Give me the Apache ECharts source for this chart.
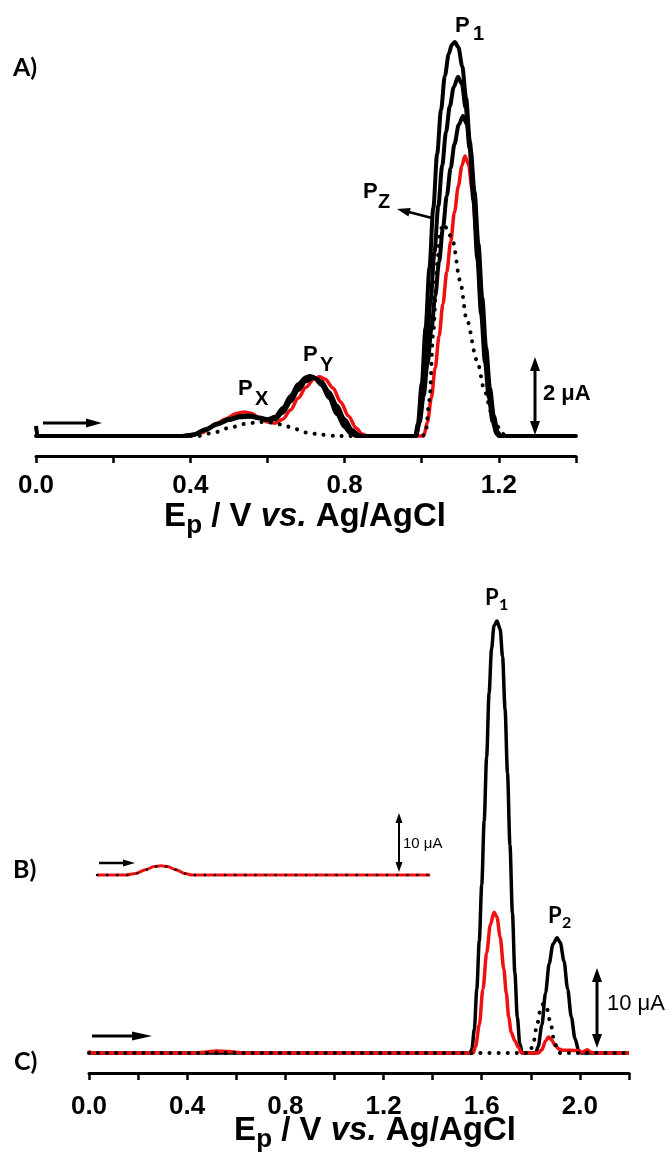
<!DOCTYPE html>
<html>
<head>
<meta charset="utf-8">
<script src="https://cdn.jsdelivr.net/npm/echarts@6/dist/echarts.min.js"></script>
<style>
  html, body { margin: 0; padding: 0; background: #fff; }
  #main { width: 672px; height: 1157px; }
</style>
</head>
<body>
<div id="main"></div>
<script>
// ---- panel A : potential (V) vs current (uA), 3 black runs, red run, dotted blank
var aBlack1 = [[0,0.25],[0.004,0],[0.38,0],[0.41,0.04],[0.44,0.17],[0.47,0.31],[0.50,0.42],[0.53,0.5],[0.555,0.51],[0.58,0.46],[0.60,0.42],[0.62,0.48],[0.64,0.7],[0.66,1.0],[0.68,1.3],[0.70,1.47],[0.71,1.5],[0.72,1.47],[0.74,1.28],[0.76,0.95],[0.78,0.55],[0.80,0.22],[0.815,0.07],[0.83,0],[0.975,0],[0.983,0],[0.99,0.3],[1.0,1.3],[1.01,2.7],[1.02,4.2],[1.03,5.7],[1.04,7.05],[1.05,8.15],[1.06,9.0],[1.07,9.55],[1.078,9.78],[1.086,9.85],[1.095,9.72],[1.105,9.25],[1.115,8.45],[1.125,7.35],[1.135,6.0],[1.145,4.55],[1.155,3.15],[1.165,1.95],[1.175,1.0],[1.185,0.38],[1.195,0.06],[1.203,0],[1.21,0],[1.4,0]];
var aBlack2 = [[0,0],[0.38,0],[0.41,0.04],[0.44,0.16],[0.47,0.3],[0.50,0.41],[0.53,0.48],[0.555,0.5],[0.58,0.45],[0.60,0.41],[0.62,0.45],[0.64,0.64],[0.66,0.93],[0.68,1.22],[0.70,1.42],[0.715,1.48],[0.73,1.42],[0.75,1.18],[0.77,0.84],[0.79,0.48],[0.81,0.18],[0.825,0.05],[0.84,0],[0.975,0],[0.985,0],[0.993,0.3],[1.003,1.1],[1.013,2.2],[1.023,3.4],[1.033,4.6],[1.043,5.75],[1.053,6.75],[1.063,7.6],[1.073,8.25],[1.083,8.72],[1.094,8.98],[1.104,8.8],[1.114,8.2],[1.124,7.2],[1.134,5.9],[1.144,4.45],[1.154,3.05],[1.164,1.85],[1.174,0.95],[1.184,0.35],[1.194,0.05],[1.2,0],[1.21,0],[1.4,0]];
var aBlack3 = [[0,0],[0.38,0],[0.41,0.03],[0.44,0.15],[0.47,0.29],[0.50,0.4],[0.53,0.47],[0.555,0.48],[0.58,0.44],[0.60,0.4],[0.62,0.42],[0.64,0.58],[0.66,0.86],[0.68,1.15],[0.70,1.37],[0.72,1.45],[0.74,1.36],[0.76,1.1],[0.78,0.76],[0.80,0.42],[0.82,0.15],[0.835,0.03],[0.85,0],[0.975,0],[0.985,0],[0.995,0.35],[1.005,1.0],[1.015,1.8],[1.025,2.65],[1.035,3.5],[1.045,4.35],[1.055,5.2],[1.065,6.0],[1.075,6.7],[1.085,7.3],[1.096,7.78],[1.107,8.0],[1.117,7.8],[1.127,7.15],[1.137,6.1],[1.147,4.8],[1.157,3.45],[1.167,2.2],[1.177,1.2],[1.187,0.5],[1.197,0.1],[1.205,0],[1.215,0],[1.4,0]];
var aRed = [[0,0.25],[0.004,0],[0.38,0],[0.40,0],[0.43,0.08],[0.46,0.25],[0.49,0.42],[0.52,0.56],[0.54,0.6],[0.56,0.56],[0.58,0.45],[0.60,0.35],[0.62,0.32],[0.64,0.42],[0.66,0.65],[0.68,0.95],[0.70,1.22],[0.72,1.42],[0.735,1.48],[0.75,1.42],[0.77,1.2],[0.79,0.85],[0.81,0.5],[0.83,0.2],[0.845,0.05],[0.86,0],[0.99,0],[1.005,0],[1.015,0.35],[1.025,0.95],[1.035,1.7],[1.045,2.5],[1.055,3.3],[1.065,4.1],[1.075,4.85],[1.085,5.6],[1.095,6.25],[1.104,6.75],[1.112,7.0],[1.121,6.8],[1.131,6.15],[1.141,5.1],[1.151,3.85],[1.161,2.6],[1.171,1.55],[1.181,0.75],[1.191,0.25],[1.2,0.04],[1.21,0],[1.4,0]];
var aDotted = [[0,0],[0.42,0],[0.46,0.08],[0.50,0.2],[0.54,0.3],[0.58,0.35],[0.61,0.34],[0.64,0.28],[0.67,0.18],[0.70,0.09],[0.74,0.03],[0.78,0],[1.0,0],[1.01,0.05],[1.02,0.9],[1.03,2.6],[1.04,4.3],[1.047,5.05],[1.055,5.3],[1.065,5.2],[1.081,4.85],[1.099,3.9],[1.117,2.9],[1.143,1.9],[1.164,1.1],[1.18,0.6],[1.195,0.25],[1.21,0.05],[1.222,0],[1.4,0]];

// ---- panel B (offset trace drawn in the lower grid) and panel C
var bRed = [[0.033,22.25],[0.15,22.25],[0.19,22.45],[0.23,22.9],[0.265,23.3],[0.293,23.4],[0.32,23.3],[0.355,22.9],[0.39,22.45],[0.42,22.25],[1.39,22.25]];
var cBlack = [[0,0],[1.54,0],[1.552,0],[1.56,0.5],[1.57,3],[1.58,8],[1.59,14],[1.60,21],[1.61,29],[1.62,37],[1.63,45],[1.64,50.5],[1.65,53.4],[1.662,54],[1.675,53],[1.685,49.5],[1.695,43],[1.705,35],[1.715,26],[1.725,17.5],[1.735,10],[1.745,4.5],[1.755,1.2],[1.765,0],[1.775,0],[1.81,0],[1.82,0],[1.83,0.8],[1.845,3.5],[1.86,7.5],[1.875,11.2],[1.89,13.6],[1.907,14.4],[1.92,13.8],[1.935,11.5],[1.95,8],[1.965,4.5],[1.98,1.8],[1.995,0.3],[2.005,0],[2.015,0],[2.2,0]];
var cRed = [[0,0.3],[0.004,0],[0.44,0],[0.47,0.1],[0.52,0.25],[0.57,0.2],[0.61,0.05],[0.63,0],[1.56,0],[1.565,0],[1.575,0.8],[1.59,3.5],[1.605,8],[1.62,12.5],[1.635,16],[1.65,17.6],[1.662,17],[1.675,14.5],[1.69,10.5],[1.70,7.5],[1.71,4.5],[1.72,2.6],[1.735,1.5],[1.75,0.7],[1.762,0],[1.83,0],[1.845,0.4],[1.86,1.5],[1.872,2.0],[1.885,1.6],[1.9,0.9],[1.915,0.5],[1.93,0.35],[1.96,0.35],[1.99,0.3],[2.01,0.1],[2.03,0.4],[2.045,0.1],[2.06,0],[2.2,0]];
var cDotted = [[0,0],[1.795,0],[1.81,1.2],[1.825,3.5],[1.84,5.5],[1.852,6.2],[1.865,5.6],[1.88,3.8],[1.895,1.6],[1.91,0.2],[1.92,0],[2.2,0]];

var FONT = '"Liberation Sans", Arial, sans-serif';
var CAL = 'Lato, "Open Sans", sans-serif';

// ---------- annotation helpers (pixels)
var ctx = document.createElement('canvas').getContext('2d');
function tw(t, f) { ctx.font = f; return ctx.measureText(t).width; }
function txt(x, y, t, f, align) {
  return { type: 'text', z: 100, x: x, y: y,
    style: { text: t, font: f, fill: '#000', align: align || 'left', verticalAlign: 'middle' } };
}
// runs of text on one line, parts = [text, font, dy]; centred on x
function runs(x, y, parts) {
  var total = 0;
  parts.forEach(function (p) { total += tw(p[0], p[1]); });
  var cx = x - total / 2, out = [];
  parts.forEach(function (p) {
    out.push(txt(cx, y + (p[2] || 0), p[0], p[1]));
    cx += tw(p[0], p[1]);
  });
  return out;
}
function head(tx, ty, ux, uy, len, wid) {
  var bx = tx - ux * len, by = ty - uy * len, px = -uy * wid / 2, py = ux * wid / 2;
  return { type: 'polygon', z: 100, shape: { points: [[tx, ty], [bx + px, by + py], [bx - px, by - py]] }, style: { fill: '#000' } };
}
function arrow(x1, y1, x2, y2, lw, len, wid) {
  var d = Math.hypot(x2 - x1, y2 - y1), ux = (x2 - x1) / d, uy = (y2 - y1) / d;
  return [{ type: 'line', z: 100, shape: { x1: x1, y1: y1, x2: x2 - ux * len * 0.7, y2: y2 - uy * len * 0.7 }, style: { stroke: '#000', lineWidth: lw } },
    head(x2, y2, ux, uy, len, wid)];
}
function scaleBar(x, y1, y2, lw, len, wid) {
  return [{ type: 'line', z: 100, shape: { x1: x, y1: y1 + len * 0.7, x2: x, y2: y2 - len * 0.7 }, style: { stroke: '#000', lineWidth: lw } },
    head(x, y1, 0, -1, len, wid), head(x, y2, 0, 1, len, wid)];
}

var B22 = 'bold 22px ' + FONT, B20 = 'bold 20px ' + FONT;
var T33 = 'bold 33px ' + FONT;
var title = [['E', T33], ['p', 'bold 26px ' + FONT, 9], [' / V ', T33], ['vs.', 'italic ' + T33], [' Ag/AgCl', T33]];
var graphics = [].concat(
  txt(13, 68, 'A)', 'bold 25px ' + CAL),
  txt(13, 870, 'B)', 'bold 25px ' + CAL),
  txt(14, 1062, 'C)', 'bold 25px ' + CAL),
  // panel A peak labels
  txt(455, 26, 'P', B22), txt(473, 34, '1', B20),
  txt(363, 192, 'P', B22), txt(378, 202, 'Z', B20),
  txt(238, 389, 'P', B22), txt(255, 399, 'X', B20),
  txt(303, 355, 'P', B22), txt(320, 365, 'Y', B20),
  // panel C peak labels
  txt(485, 598, 'P', 'bold 22px ' + CAL), txt(499, 605, '1', 'bold 16px ' + CAL),
  txt(548, 916, 'P', 'bold 22px ' + CAL), txt(562, 923, '2', 'bold 16px ' + CAL),
  // arrows and scale bars
  arrow(43, 423, 102, 423, 3, 16, 9),
  arrow(432, 218, 397, 209, 2.5, 13, 9),
  scaleBar(535, 357, 435, 3, 14, 10),
  arrow(99, 863, 135, 863, 2.5, 12, 7),
  scaleBar(399, 813, 872, 2, 10, 7),
  arrow(92, 1036, 152, 1036, 3, 20, 9),
  scaleBar(597, 968, 1048, 3, 14, 10),
  txt(543, 394, '2 μA', B22),
  txt(403, 844, '10 μA', '15px ' + FONT),
  txt(607, 1004, '10 μA', '22px ' + FONT),
  // axis titles
  runs(305, 517, title),
  runs(375, 1131, title)
);

function xAxisOf(grid, max, margin) {
  return {
    gridIndex: grid, type: 'value', min: 0, max: max, interval: 0.2,
    axisLine: { show: true, onZero: false, lineStyle: { color: '#000', width: 3 } },
    axisTick: { show: true, inside: false, length: 7, lineStyle: { color: '#000', width: 2.5 } },
    splitLine: { show: false },
    axisLabel: {
      margin: margin, color: '#000', fontFamily: FONT, fontWeight: 'bold', fontSize: 26,
      formatter: function (v) { return Math.round(v * 10) % 4 === 0 ? v.toFixed(1) : ''; }
    }
  };
}

function line(name, grid, data, color, width) {
  return { name: name, type: 'line', xAxisIndex: grid, yAxisIndex: grid, data: data,
    symbol: 'none', smooth: 0.3, smoothMonotone: 'x',
    lineStyle: { color: color, width: width } };
}
function dots(name, grid, data, width, gap) {
  return { name: name, type: 'line', xAxisIndex: grid, yAxisIndex: grid, data: data,
    symbol: 'none', smooth: 0.3, smoothMonotone: 'x', z: 5,
    lineStyle: { color: '#000', width: width, type: [0.1, gap], cap: 'round' } };
}

var chart = echarts.init(document.getElementById('main'));
var option = {
  animation: false,
  backgroundColor: '#fff',
  grid: [
    { left: 36, top: 16, width: 540, height: 440 },
    { left: 89, top: 561, width: 540, height: 512 }
  ],
  xAxis: [xAxisOf(0, 1.4, 17), xAxisOf(1, 2.2, 21)],
  yAxis: [
    { gridIndex: 0, type: 'value', min: -0.5, max: 10.5, show: false },
    { gridIndex: 1, type: 'value', min: -2.5, max: 61.5, show: false }
  ],
  series: [
    line('A red', 0, aRed, '#f01010', 3.5),
    line('A run 3', 0, aBlack3, '#000', 4),
    line('A run 2', 0, aBlack2, '#000', 4),
    line('A run 1', 0, aBlack1, '#000', 4),
    dots('A blank', 0, aDotted, 4, 9),
    line('B red', 1, bRed, '#f01010', 3),
    dots('B blank', 1, bRed, 2.5, 10),
    line('C black', 1, cBlack, '#000', 3.5),
    line('C red', 1, cRed, '#f01010', 3.5),
    dots('C blank', 1, cDotted, 4, 9)
  ],
  graphic: graphics
};
chart.setOption(option);
</script>
</body>
</html>
